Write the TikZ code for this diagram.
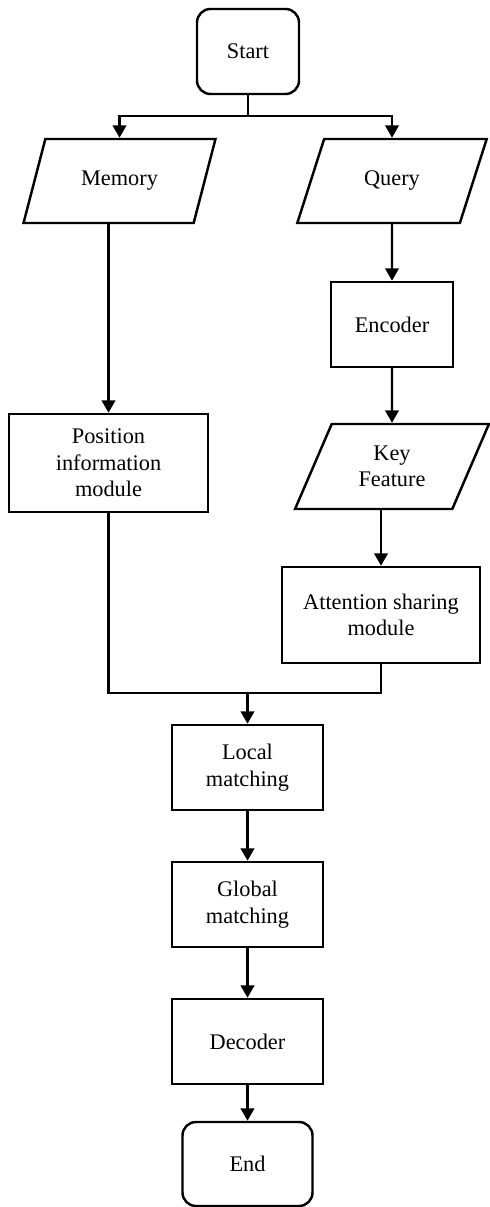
\documentclass[tikz,border=0pt]{standalone}
\usepackage{fontspec}
\setmainfont{Liberation Serif}
\usepackage{tikz}
\usetikzlibrary{arrows.meta,positioning,shapes.geometric,calc}

\begin{document}
\begin{tikzpicture}[every node/.style={font=\fontsize{12.7}{15}\selectfont,align=center},
  line width=1.4pt,
  box/.style={draw,rectangle,inner sep=2pt},
  term/.style={draw,rectangle,rounded corners=0.27cm,inner sep=2pt},
  io/.style={draw,trapezium,trapezium left angle=65,trapezium right angle=115,
    trapezium stretches=true,inner sep=2pt},
  arr/.style={-{Triangle[length=7pt,width=7.6pt]}}]
  \useasboundingbox (0,0) rectangle (9.78,-24.14);

  \node[term,minimum width=2.04cm,minimum height=1.70cm] (start) at (4.96,-1.03) {Start};
  \node[io,minimum width=3.86cm,minimum height=1.68cm] (mem) at (2.39,-3.62) {Memory};
  \node[io,minimum width=3.80cm,minimum height=1.68cm] (qry) at (7.84,-3.62) {Query};
  \node[box,minimum width=2.44cm,minimum height=1.70cm] (enc) at (7.84,-6.49) {Encoder};
  \node[io,minimum width=3.90cm,minimum height=1.70cm] (key) at (7.84,-9.33) {Key\\Feature};
  \node[box,minimum width=3.96cm,minimum height=1.92cm] (att) at (7.62,-12.30) {Attention sharing\\module};
  \node[box,minimum width=3.98cm,minimum height=1.96cm] (pos) at (2.17,-9.26) {Position\\information\\module};
  \node[box,minimum width=3.02cm,minimum height=1.70cm] (loc) at (4.95,-15.35) {Local\\matching};
  \node[box,minimum width=3.02cm,minimum height=1.70cm] (glb) at (4.95,-18.09) {Global\\matching};
  \node[box,minimum width=3.02cm,minimum height=1.70cm] (dec) at (4.95,-20.83) {Decoder};
  \node[term,minimum width=2.60cm,minimum height=1.68cm] (end) at (4.95,-23.28) {End};

  % split after start
  \coordinate (s) at (4.96,-2.32);
  \draw (start.south) -- (s);
  \draw[arr] (s) -| (mem.north);
  \draw[arr] (s) -| (qry.north);

  \draw[arr] (mem.south -| pos.north) -- (pos.north);
  \draw[arr] (qry) -- (enc);
  \draw[arr] (enc) -- (key);
  \draw[arr] (key.south -| att.north) -- (att.north);

  % merge before matching
  \coordinate (m) at (4.95,-13.86);
  \draw (pos.south) |- (m);
  \draw (att.south) |- (m);
  \draw[arr] (m) -- (loc.north);

  \draw[arr] (loc) -- (glb);
  \draw[arr] (glb) -- (dec);
  \draw[arr] (dec) -- (end);
\end{tikzpicture}
\end{document}
